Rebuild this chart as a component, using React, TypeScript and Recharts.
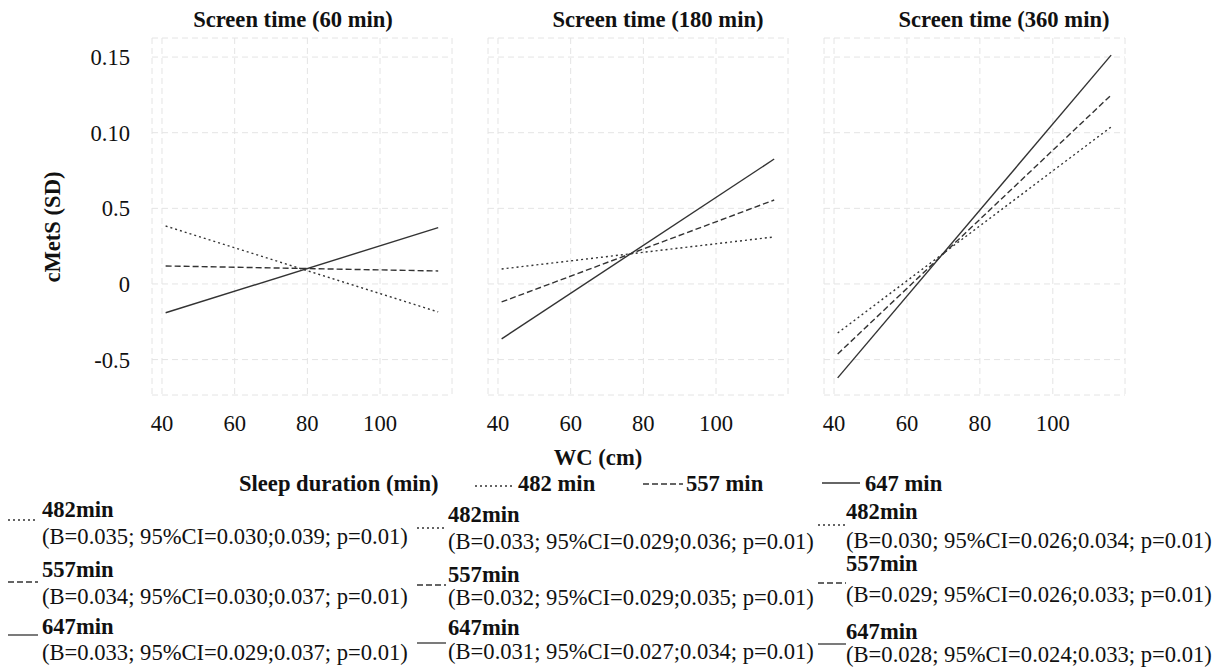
import React from 'react';
import { CartesianGrid, Line, LineChart, XAxis, YAxis } from 'recharts';

// WC (cm) at the two ends of each fitted line
const wcEnds = [41, 116];

// cMetS (SD) predicted at each end, per screen time panel and sleep duration
const st60Sleep482 = [0.383, -0.185];
const st60Sleep557 = [0.119, 0.086];
const st60Sleep647 = [-0.19, 0.372];

const st180Sleep482 = [0.099, 0.311];
const st180Sleep557 = [-0.119, 0.555];
const st180Sleep647 = [-0.363, 0.826];

const st360Sleep482 = [-0.324, 1.038];
const st360Sleep557 = [-0.463, 1.249];
const st360Sleep647 = [-0.621, 1.513];

const panelTitles = ['Screen time (60 min)', 'Screen time (180 min)', 'Screen time (360 min)'];
const sleepLabels = ['482 min', '557 min', '647 min'];
const sleepShort = ['482min', '557min', '647min'];

const xTicks = [40, 60, 80, 100];
const yTicks = [-0.5, 0, 0.5, 1, 1.5];
const yTickLabels = ['-0.5', '0', '0.5', '0.10', '0.15'];

const stats60 = [
  '(B=0.035; 95%CI=0.030;0.039; p=0.01)',
  '(B=0.034; 95%CI=0.030;0.037; p=0.01)',
  '(B=0.033; 95%CI=0.029;0.037; p=0.01)',
];
const stats180 = [
  '(B=0.033; 95%CI=0.029;0.036; p=0.01)',
  '(B=0.032; 95%CI=0.029;0.035; p=0.01)',
  '(B=0.031; 95%CI=0.027;0.034; p=0.01)',
];
const stats360 = [
  '(B=0.030; 95%CI=0.026;0.034; p=0.01)',
  '(B=0.029; 95%CI=0.026;0.033; p=0.01)',
  '(B=0.028; 95%CI=0.024;0.033; p=0.01)',
];

const FONT = "'Liberation Serif', Tinos, 'Times New Roman', 'DejaVu Serif', serif";
const FS = 22.6;
const INK = '#111';
const LINE = '#333';
const dashes = ['2 3', '6 3', undefined];

function rows(a: number[], b: number[], c: number[]) {
  return wcEnds.map((wc, i) => ({ wc, s482: a[i], s557: b[i], s647: c[i] }));
}

const panels = [
  { data: rows(st60Sleep482, st60Sleep557, st60Sleep647), left: 0, width: 460, mLeft: 0, titleX: 293 },
  { data: rows(st180Sleep482, st180Sleep557, st180Sleep647), left: 460, width: 336, mLeft: 28, titleX: 658 },
  { data: rows(st360Sleep482, st360Sleep557, st360Sleep647), left: 796, width: 337, mLeft: 28, titleX: 1004 },
];

function Sample({ x, y, w, dash }: { x: number; y: number; w: number; dash?: string }) {
  return (
    <svg style={{ position: 'absolute', left: x, top: y - 2 }} width={w} height={4}>
      <line x1={0} y1={2} x2={w} y2={2} stroke={LINE} strokeWidth={1.3} strokeDasharray={dash} />
    </svg>
  );
}

function Txt({ x, y, children, bold, center }: { x: number; y: number; children: React.ReactNode; bold?: boolean; center?: boolean }) {
  return (
    <div
      style={{
        position: 'absolute',
        left: center ? x - 200 : x,
        width: center ? 400 : undefined,
        top: y - 13,
        height: 26,
        lineHeight: '26px',
        textAlign: center ? 'center' : 'left',
        whiteSpace: 'nowrap',
        fontWeight: bold ? 'bold' : 'normal',
      }}
    >
      {children}
    </div>
  );
}

export default function App() {
  const statCols = [
    { stats: stats60, sx: 8, sw: 30, tx: 42, labelY: [510, 570, 627], statY: [537, 597, 653], sampleY: [520, 582, 635] },
    { stats: stats180, sx: 417, sw: 29, tx: 448, labelY: [515, 575, 628], statY: [542, 598, 652], sampleY: [528, 585, 643] },
    { stats: stats360, sx: 818, sw: 28, tx: 846, labelY: [512, 564, 632], statY: [541, 595, 655], sampleY: [525, 583, 644] },
  ];

  return (
    <div
      style={{
        position: 'absolute', left: 0, top: 0, width: 1229, height: 668,
        background: '#fff', fontFamily: FONT, fontSize: FS, color: INK, overflow: 'hidden',
      }}
    >
      {panels.map((p, pi) => (
        <div key={pi} style={{ position: 'absolute', left: p.left, top: 0 }}>
          <LineChart width={p.width} height={440} data={p.data} margin={{ top: 38, right: 8, bottom: 0, left: p.mLeft }}>
            <CartesianGrid stroke="#e4e4e4" strokeDasharray="6 4" />
            <XAxis
              type="number"
              dataKey="wc"
              domain={[37.25, 119.8]}
              ticks={xTicks}
              allowDataOverflow
              axisLine={false}
              tickLine={false}
              tickSize={0}
              tickMargin={20}
              height={45}
              tick={{ fontSize: FS, fill: INK, fontFamily: FONT }}
            />
            <YAxis
              type="number"
              domain={[-0.734, 1.626]}
              ticks={yTicks}
              allowDataOverflow
              hide={pi !== 0}
              width={152}
              axisLine={false}
              tickLine={false}
              tickSize={0}
              tickMargin={22}
              tickFormatter={(v: number) => yTickLabels[yTicks.indexOf(v)]}
              tick={{ fontSize: FS, fill: INK, fontFamily: FONT }}
            />
            {(['s482', 's557', 's647'] as const).map((k, i) => (
              <Line
                key={k}
                dataKey={k}
                stroke={LINE}
                strokeWidth={1.4}
                strokeDasharray={dashes[i]}
                dot={false}
                isAnimationActive={false}
              />
            ))}
          </LineChart>
        </div>
      ))}

      {panelTitles.map((t, i) => (
        <Txt key={t} x={panels[i].titleX} y={20} bold center>{t}</Txt>
      ))}

      <div
        style={{
          position: 'absolute', left: 53 - 100, top: 227 - 13, width: 200, height: 26, lineHeight: '26px',
          textAlign: 'center', fontWeight: 'bold', transform: 'rotate(-90deg)',
        }}
      >
        cMetS (SD)
      </div>

      <Txt x={598} y={458} bold center>WC (cm)</Txt>

      <Txt x={239} y={484} bold>Sleep duration (min)</Txt>
      <Sample x={475} y={486} w={40} dash={dashes[0]} />
      <Txt x={518} y={484} bold>{sleepLabels[0]}</Txt>
      <Sample x={643} y={484} w={40} dash={dashes[1]} />
      <Txt x={686} y={484} bold>{sleepLabels[1]}</Txt>
      <Sample x={822} y={483} w={38} />
      <Txt x={865} y={484} bold>{sleepLabels[2]}</Txt>

      {statCols.map((c, ci) => (
        <React.Fragment key={ci}>
          {c.stats.map((s, ri) => (
            <React.Fragment key={ri}>
              <Sample x={c.sx} y={c.sampleY[ri]} w={c.sw} dash={dashes[ri]} />
              <Txt x={c.tx} y={c.labelY[ri]} bold>{sleepShort[ri]}</Txt>
              <Txt x={c.tx} y={c.statY[ri]}>{s}</Txt>
            </React.Fragment>
          ))}
        </React.Fragment>
      ))}
    </div>
  );
}
